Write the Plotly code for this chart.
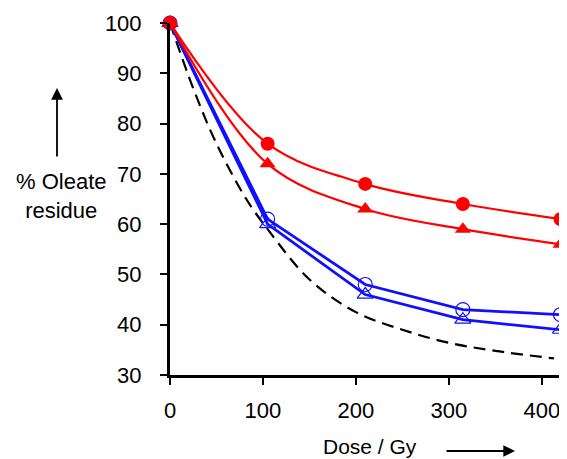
import plotly.graph_objects as go

dose = [0, 105, 210, 315, 420]
red_circle = [100, 76, 68, 64, 61]
red_triangle = [100, 72, 63, 59, 56]
blue_circle = [100, 61, 48, 43, 42]
blue_triangle = [100, 60, 46, 41, 39]
dash_dose = [0, 25, 50, 82, 105, 150, 200, 250, 300, 350, 413]
dash_val = [100, 87, 76, 65, 59, 49, 42.5, 39, 36.4, 34.8, 33.3]

x_ticks = [0, 100, 200, 300, 400]
y_ticks = [30, 40, 50, 60, 70, 80, 90, 100]

RED = "#ff0000"
BLUE = "#1010ff"

fig = go.Figure()
fig.add_trace(go.Scatter(x=dash_dose, y=dash_val, mode="lines",
                         line=dict(color="black", width=2.2, dash="12px,7px", shape="spline"),
                         cliponaxis=False))
fig.add_trace(go.Scatter(x=dose, y=blue_triangle, mode="lines+markers",
                         line=dict(color=BLUE, width=2.8),
                         marker=dict(symbol="triangle-up-open", size=14, color=BLUE, line=dict(width=1.2)),
                         cliponaxis=False))
fig.add_trace(go.Scatter(x=dose, y=blue_circle, mode="lines+markers",
                         line=dict(color=BLUE, width=2.8),
                         marker=dict(symbol="circle-open", size=14, color=BLUE, line=dict(width=1.2)),
                         cliponaxis=False))
fig.add_trace(go.Scatter(x=dose, y=red_triangle, mode="lines+markers",
                         line=dict(color=RED, width=2.2, shape="spline"),
                         marker=dict(symbol="triangle-up", size=14, color=RED),
                         cliponaxis=False))
fig.add_trace(go.Scatter(x=dose, y=red_circle, mode="lines+markers",
                         line=dict(color=RED, width=2.2, shape="spline"),
                         marker=dict(symbol="circle", size=14, color=RED),
                         cliponaxis=False))

axis_font = dict(family="Liberation Sans, Arial, sans-serif", size=22, color="black")
fig.update_layout(
    width=559, height=451,
    margin=dict(l=162, r=0, t=15, b=84),
    paper_bgcolor="white", plot_bgcolor="white",
    showlegend=False,
    xaxis=dict(range=[0, 427], tickvals=x_ticks, ticks="outside", ticklen=7, tickwidth=2,
               tickcolor="black", showline=True, linecolor="black", linewidth=3,
               showgrid=False, zeroline=False, tickfont=axis_font, ticklabelstandoff=7),
    yaxis=dict(range=[30, 100], tickvals=y_ticks, ticks="outside", ticklen=7, tickwidth=2,
               tickcolor="black", showline=True, linecolor="black", linewidth=3,
               showgrid=False, zeroline=False, tickfont=axis_font, ticklabelstandoff=14),
)

lab_font = dict(family="Liberation Sans, Arial, sans-serif", size=22, color="black")
fig.add_annotation(xref="paper", yref="paper", x=(61 - 170) / 397, y=(375 - 196) / 352,
                   text="% Oleate<br>residue", showarrow=False, font=lab_font,
                   xanchor="center", yanchor="middle")
fig.add_annotation(xref="paper", yref="paper", x=(57 - 170) / 397, y=(375 - 88) / 352,
                   text="", showarrow=True, ax=0, ay=70, arrowhead=2, arrowsize=1.3,
                   arrowwidth=1.8, arrowcolor="black")
fig.add_annotation(xref="paper", yref="paper", x=(370 - 170) / 397, y=(375 - 446) / 352,
                   text="Dose / Gy", showarrow=False,
                   font=dict(family="Liberation Sans, Arial, sans-serif", size=21, color="black"),
                   xanchor="center", yanchor="middle")
fig.add_annotation(xref="paper", yref="paper", x=(515 - 170) / 397, y=(375 - 451) / 352,
                   text="", showarrow=True, ax=-70, ay=0, arrowhead=2, arrowsize=1.3,
                   arrowwidth=1.8, arrowcolor="black")

fig.write_html("out.html")
